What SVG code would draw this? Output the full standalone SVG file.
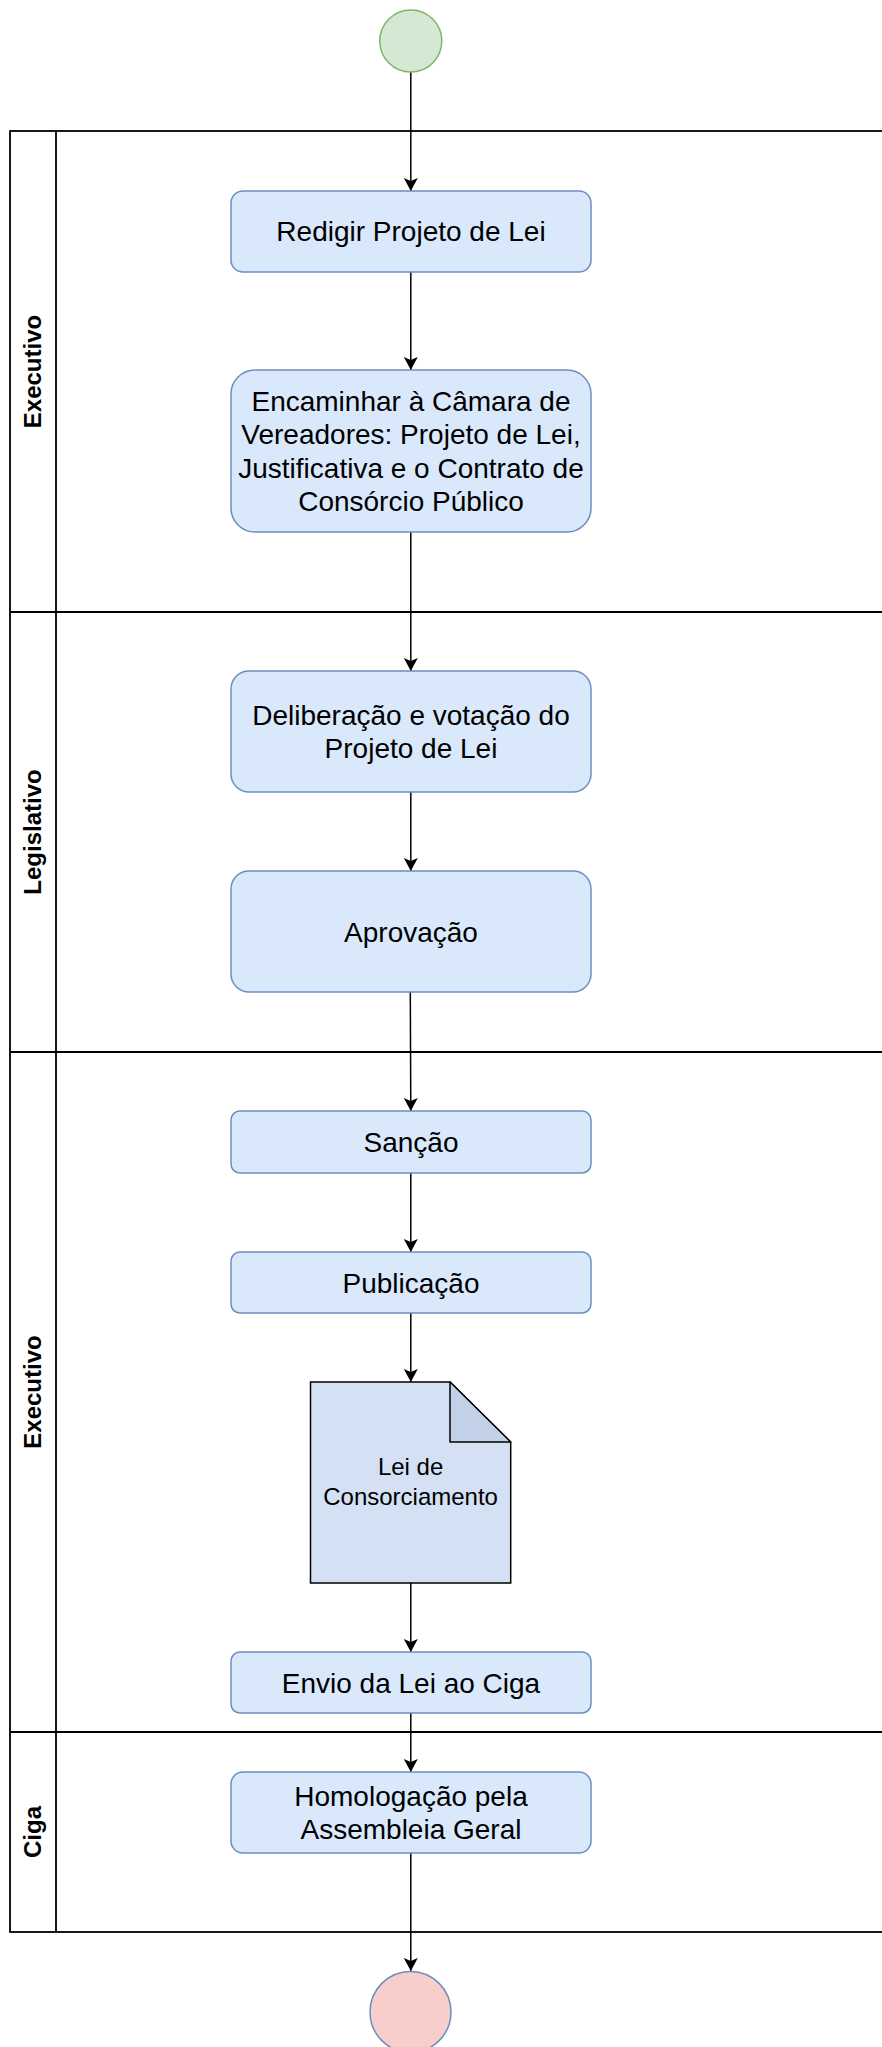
<svg xmlns="http://www.w3.org/2000/svg" width="882" height="2047" viewBox="0 0 882 2047">
<style>
.box{fill:#dae8fc;stroke:#6c8ebf;stroke-width:1.5}
.t{font-family:"Liberation Sans",Arial,sans-serif;font-size:28px;fill:#000;text-anchor:middle}
.td{font-family:"Liberation Sans",Arial,sans-serif;font-size:24px;fill:#000;text-anchor:middle}
.lane{fill:none;stroke:#000;stroke-width:1.8}
.lbl{font-family:"Liberation Sans",Arial,sans-serif;font-size:24px;font-weight:bold;fill:#000;text-anchor:middle}
.edge{fill:none;stroke:#000;stroke-width:1.5}
</style>
<defs>
<marker id="arr" markerUnits="userSpaceOnUse" markerWidth="16" markerHeight="16" viewBox="0 0 16 16" refX="14" refY="8" orient="auto">
<path d="M1,1 L14,8 L1,15 L4,8 Z" fill="#000"/>
</marker>
</defs>
<rect width="882" height="2047" fill="#fff"/>
<g id="pool">
<rect class="lane" x="10" y="131" width="890" height="1801"/>
<line class="lane" x1="56" y1="131" x2="56" y2="1932"/>
<line class="lane" x1="10" y1="612" x2="882" y2="612"/>
<line class="lane" x1="10" y1="1052" x2="882" y2="1052"/>
<line class="lane" x1="10" y1="1732" x2="882" y2="1732"/>
<text class="lbl" transform="translate(41.4,371.5) rotate(-90)">Executivo</text>
<text class="lbl" transform="translate(41.4,832) rotate(-90)">Legislativo</text>
<text class="lbl" transform="translate(41.4,1392) rotate(-90)">Executivo</text>
<text class="lbl" transform="translate(41.4,1832) rotate(-90)">Ciga</text>
</g>
<g id="edges">
<line class="edge" x1="410.8" y1="72" x2="410.8" y2="191" marker-end="url(#arr)"/>
<line class="edge" x1="410.8" y1="272" x2="410.8" y2="370" marker-end="url(#arr)"/>
<line class="edge" x1="410.8" y1="532" x2="410.8" y2="671" marker-end="url(#arr)"/>
<line class="edge" x1="410.8" y1="792" x2="410.8" y2="871" marker-end="url(#arr)"/>
<line class="edge" x1="410.3" y1="992" x2="410.8" y2="1111" marker-end="url(#arr)"/>
<line class="edge" x1="410.8" y1="1173" x2="410.8" y2="1252" marker-end="url(#arr)"/>
<line class="edge" x1="410.8" y1="1313" x2="410.8" y2="1382" marker-end="url(#arr)"/>
<line class="edge" x1="410.8" y1="1583" x2="410.8" y2="1652" marker-end="url(#arr)"/>
<line class="edge" x1="410.8" y1="1713" x2="410.8" y2="1772" marker-end="url(#arr)"/>
<line class="edge" x1="410.8" y1="1853" x2="410.8" y2="1971" marker-end="url(#arr)"/>
</g>
<g id="start"><circle cx="410.8" cy="41" r="31" fill="#d5e8d4" stroke="#82b366" stroke-width="1.5"/></g>
<g id="n1"><rect class="box" x="231" y="191" width="360" height="81" rx="12"/>
<text class="t" x="411" y="241">Redigir Projeto de Lei</text></g>
<g id="n2"><rect class="box" x="231" y="370" width="360" height="162" rx="24"/>
<text class="t" x="411" y="410.6">Encaminhar à Câmara de</text>
<text class="t" x="411" y="444.2">Vereadores: Projeto de Lei,</text>
<text class="t" x="411" y="477.8">Justificativa e o Contrato de</text>
<text class="t" x="411" y="511.4">Consórcio Público</text></g>
<g id="n3"><rect class="box" x="231" y="671" width="360" height="121" rx="18"/>
<text class="t" x="411" y="724.7">Deliberação e votação do</text>
<text class="t" x="411" y="758.3">Projeto de Lei</text></g>
<g id="n4"><rect class="box" x="231" y="871" width="360" height="121" rx="18"/>
<text class="t" x="411" y="942">Aprovação</text></g>
<g id="n5"><rect class="box" x="231" y="1111" width="360" height="62" rx="9"/>
<text class="t" x="411" y="1152">Sanção</text></g>
<g id="n6"><rect class="box" x="231" y="1252" width="360" height="61" rx="9"/>
<text class="t" x="411" y="1292.5">Publicação</text></g>
<g id="doc">
<path d="M310.5,1382 L450,1382 L510.7,1442 L510.7,1583 L310.5,1583 Z" fill="#d4e1f5" stroke="#000" stroke-width="1.5"/>
<path d="M450,1382 L450,1442 L510.7,1442 Z" fill="#c3d1e8" stroke="#000" stroke-width="1.5" stroke-linejoin="round"/>
<text class="td" x="410.6" y="1475">Lei de</text>
<text class="td" x="410.6" y="1505">Consorciamento</text>
</g>
<g id="n7"><rect class="box" x="231" y="1652" width="360" height="61" rx="9"/>
<text class="t" x="411" y="1692.5">Envio da Lei ao Ciga</text></g>
<g id="n8"><rect class="box" x="231" y="1772" width="360" height="81" rx="12"/>
<text class="t" x="411" y="1805.7">Homologação pela</text>
<text class="t" x="411" y="1839.3">Assembleia Geral</text></g>
<g id="end"><circle cx="410.5" cy="2012" r="40.5" fill="#f8cecc" stroke="#6c8ebf" stroke-width="1.5"/></g>
</svg>
